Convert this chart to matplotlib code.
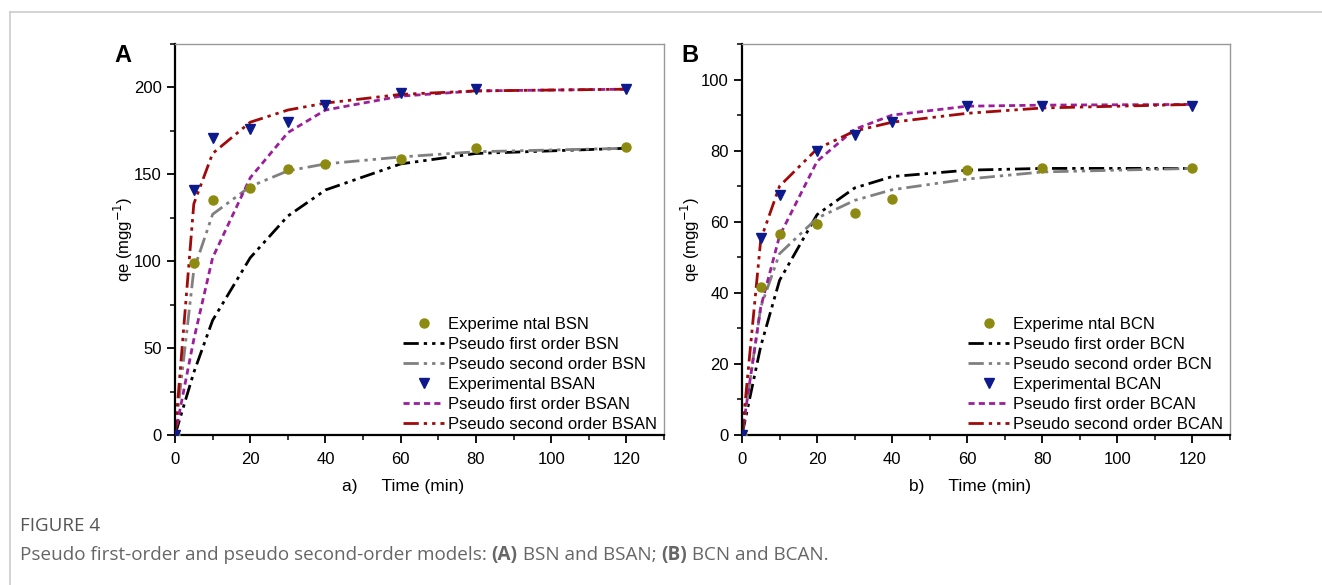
import matplotlib
matplotlib.use("Agg")
import matplotlib.pyplot as plt
from matplotlib.lines import Line2D
from matplotlib.ticker import MultipleLocator

plt.rcParams['font.family'] = ['Liberation Sans', 'DejaVu Sans']

# time points (min)
t = [0, 5, 10, 20, 30, 40, 60, 80, 120]

# Panel A: BSN / BSAN
exp_bsn = [0, 99, 135, 142, 153, 156, 159, 165, 166]
pfo_bsn = [0, 36, 66, 102, 126, 141, 156, 162, 165]
pso_bsn = [0, 95, 127, 143, 152, 156, 160, 163, 165]
exp_bsan = [0, 141, 171, 176, 180, 190, 197, 199, 199]
pfo_bsan = [0, 55, 102, 148, 174, 187, 195, 198, 199]
pso_bsan = [0, 133, 162, 180, 187, 191, 196, 198, 199]

# Panel B: BCN / BCAN
exp_bcn = [0, 41.5, 56.5, 59.5, 62.5, 66.5, 74.5, 75, 75]
pfo_bcn = [0, 25, 43.5, 62, 69.5, 72.7, 74.5, 75, 75]
pso_bcn = [0, 36, 51, 61, 66, 69, 72, 74, 75]
exp_bcan = [0, 55.5, 67.5, 80, 84.5, 88, 92.5, 92.5, 92.5]
pfo_bcan = [0, 36, 56, 77, 86, 90, 92.5, 92.8, 93]
pso_bcan = [0, 55, 70, 80.5, 85.5, 88, 90.5, 92, 93]

olive = '#8c8a10'
navy = '#0d1a8c'
purple = '#9b1f9b'
darkred = '#a00a0a'
gray = '#808080'

dashdotdot = (0, (5.5, 1.8, 1.2, 1.8, 1.2, 1.8))
shortdash = (0, (2.2, 1.5))

W, H = 1322, 585
fig = plt.figure(figsize=(W / 100, H / 100), dpi=100)

# card border
fig.add_artist(Line2D([10 / W, 1], [1 - 12 / H, 1 - 12 / H], color='#cccccc', lw=1.2))
fig.add_artist(Line2D([10 / W, 10 / W], [0, 1 - 12 / H], color='#cccccc', lw=1.2))

ax_a = fig.add_axes([175 / W, 1 - 435 / H, 489 / W, 391 / H])
ax_b = fig.add_axes([742 / W, 1 - 435 / H, 488 / W, 391 / H])


def draw(ax, exp1, pfo1, pso1, exp2, pfo2, pso2, n1, n2):
    ax.plot(t, exp1, 'o', color=olive, ms=6.5, label='Experime ntal ' + n1, zorder=5)
    ax.plot(t, pfo1, color='black', lw=2, ls=dashdotdot, label='Pseudo first order ' + n1)
    ax.plot(t, pso1, color=gray, lw=2, ls=dashdotdot, label='Pseudo second order ' + n1)
    ax.plot(t, exp2, 'v', color=navy, ms=7, label='Experimental ' + n2, zorder=5)
    ax.plot(t, pfo2, color=purple, lw=2, ls=shortdash, label='Pseudo first order ' + n2)
    ax.plot(t, pso2, color=darkred, lw=2, ls=dashdotdot, label='Pseudo second order ' + n2)

    ax.set_xlim(0, 130)
    ax.xaxis.set_major_locator(MultipleLocator(20))
    ax.xaxis.set_minor_locator(MultipleLocator(10))
    for s in ['left', 'bottom']:
        ax.spines[s].set_linewidth(1.6)
    for s in ['top', 'right']:
        ax.spines[s].set_color('#999999')
        ax.spines[s].set_linewidth(1.0)
    ax.tick_params(which='major', direction='out', length=6, width=1.3, labelsize=12)
    ax.tick_params(which='minor', direction='out', length=3.5, width=1.1)
    ax.tick_params(axis='x', pad=6)
    ax.set_ylabel('qe (mgg$^{-1}$)', fontsize=12, labelpad=-1)
    ax.legend(loc='lower right', frameon=False, fontsize=12,
              handlelength=2.45, handletextpad=0.25, labelspacing=0.3,
              borderaxespad=0.0, bbox_to_anchor=(1.0, -0.01))


draw(ax_a, exp_bsn, pfo_bsn, pso_bsn, exp_bsan, pfo_bsan, pso_bsan, 'BSN', 'BSAN')
ax_a.set_ylim(0, 225)
ax_a.yaxis.set_major_locator(MultipleLocator(50))
ax_a.yaxis.set_minor_locator(MultipleLocator(25))
ax_a.set_xlabel('a)     Time (min)', fontsize=12.5, labelpad=9, x=0.466)

draw(ax_b, exp_bcn, pfo_bcn, pso_bcn, exp_bcan, pfo_bcan, pso_bcan, 'BCN', 'BCAN')
ax_b.set_ylim(0, 110)
ax_b.yaxis.set_major_locator(MultipleLocator(20))
ax_b.yaxis.set_minor_locator(MultipleLocator(10))
ax_b.set_xlabel('b)     Time (min)', fontsize=12.5, labelpad=9, x=0.467)

# panel letters
fig.text(114 / W, 1 - 44 / H, 'A', fontsize=17, fontweight='bold', ha='left', va='top')
fig.text(681 / W, 1 - 44 / H, 'B', fontsize=17, fontweight='bold', ha='left', va='top')

# caption
cap_font = ['Open Sans', 'DejaVu Sans']
fig.text(20 / W, 1 - 526 / H, 'FIGURE 4', fontsize=13.5, color='#555555',
         family=cap_font, va='center', ha='left')

renderer = fig.canvas.get_renderer()
pieces = [('Pseudo first-order and pseudo second-order models: ', 'normal'),
          ('(A)', 'bold'), (' BSN and BSAN; ', 'normal'),
          ('(B)', 'bold'), (' BCN and BCAN.', 'normal')]
x = 20 / W
for txt, wt in pieces:
    tt = fig.text(x, 1 - 555 / H, txt, fontsize=13.6, color='#666666', family=cap_font,
                  fontweight=wt, va='center', ha='left')
    x += tt.get_window_extent(renderer).width / fig.bbox.width

fig.savefig('out.png', dpi=100)
